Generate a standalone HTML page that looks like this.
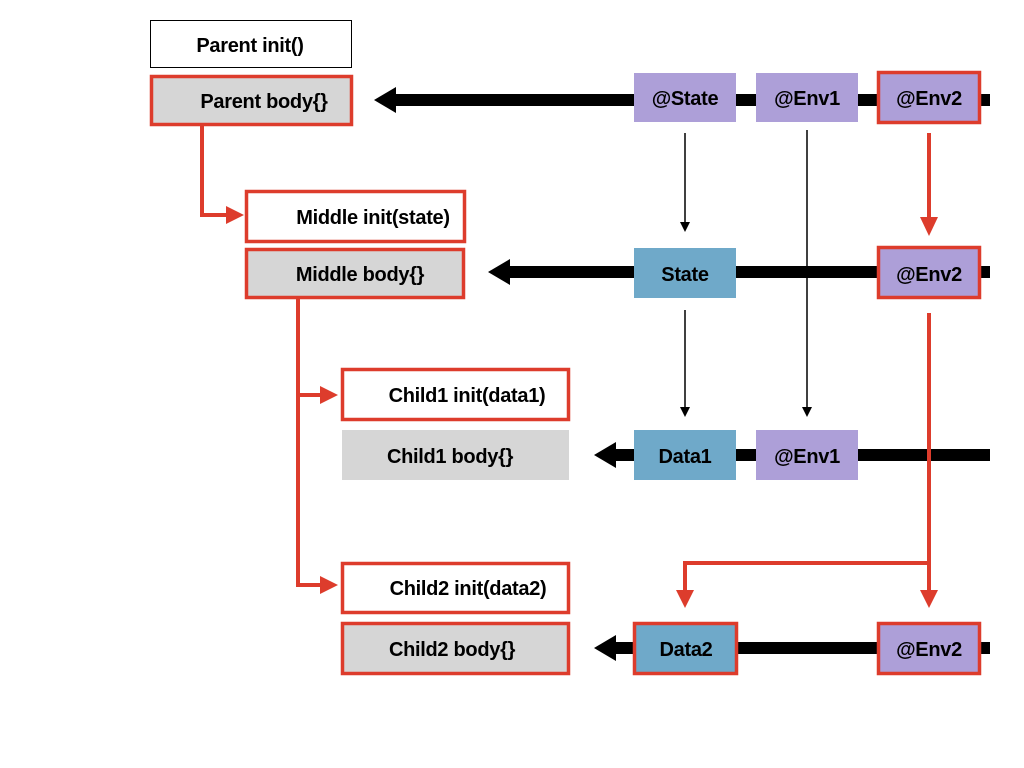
<!DOCTYPE html>
<html><head><style>body{margin:0;background:#fff}svg{display:block}text{font-family:"Liberation Sans",Arial,sans-serif;font-weight:bold;font-size:20px;letter-spacing:-0.3px;fill:#000}</style></head><body>
<svg width="1024" height="768" viewBox="0 0 1024 768">
<g fill="#000">
<rect x="392" y="94" width="598" height="12"/><path d="M374,100 L396,87 L396,113z"/>
<rect x="506" y="266" width="484" height="12"/><path d="M488,272 L510,259 L510,285z"/>
<rect x="612" y="449" width="378" height="12"/><path d="M594,455 L616,442 L616,468z"/>
<rect x="612" y="642" width="378" height="12"/><path d="M594,648 L616,635 L616,661z"/>
</g>
<g stroke="#000" stroke-width="1.5">
<line x1="685" y1="133" x2="685" y2="222"/><line x1="685" y1="310" x2="685" y2="407"/><line x1="807" y1="130" x2="807" y2="407"/>
</g>
<g fill="#000"><path d="M680,222 L690,222 L685,232z"/><path d="M680,407 L690,407 L685,417z"/><path d="M802,407 L812,407 L807,417z"/></g>
<g stroke="#dd3c2c" stroke-width="4" fill="none">
<polyline points="202,125 202,215 226,215"/>
<polyline points="298,298 298,585 320,585"/>
<line x1="298" y1="395" x2="320" y2="395"/>
<line x1="929" y1="133" x2="929" y2="218"/>
<polyline points="929,313 929,590"/>
<polyline points="929,563 685,563 685,590"/>
</g>
<g fill="#dd3c2c">
<path d="M244,215 L226,206 L226,224z"/>
<path d="M338,395 L320,386 L320,404z"/>
<path d="M338,585 L320,576 L320,594z"/>
<path d="M929,236 L920,217 L938,217z"/>
<path d="M929,608 L920,590 L938,590z"/>
<path d="M685,608 L676,590 L694,590z"/>
</g>
<rect x="150.5" y="20.5" width="201" height="47" fill="#fff" stroke="#000" stroke-width="1"/>
<text x="250" y="52" text-anchor="middle">Parent init()</text>
<rect x="151.5" y="76.5" width="200" height="48" fill="#d6d6d6" stroke="#dd3c2c" stroke-width="3.5"/>
<text x="264" y="108" text-anchor="middle">Parent body{}</text>
<rect x="246.5" y="191.5" width="218" height="50" fill="#fff" stroke="#dd3c2c" stroke-width="3.5"/>
<text x="373" y="224" text-anchor="middle">Middle init(state)</text>
<rect x="246.5" y="249.5" width="217" height="48" fill="#d6d6d6" stroke="#dd3c2c" stroke-width="3.5"/>
<text x="360" y="281" text-anchor="middle">Middle body{}</text>
<rect x="342.5" y="369.5" width="226" height="50" fill="#fff" stroke="#dd3c2c" stroke-width="3.5"/>
<text x="467" y="402" text-anchor="middle">Child1 init(data1)</text>
<rect x="342" y="430" width="227" height="50" fill="#d6d6d6"/>
<text x="450" y="463" text-anchor="middle">Child1 body{}</text>
<rect x="342.5" y="563.5" width="226" height="49" fill="#fff" stroke="#dd3c2c" stroke-width="3.5"/>
<text x="468" y="595" text-anchor="middle">Child2 init(data2)</text>
<rect x="342.5" y="623.5" width="226" height="50" fill="#d6d6d6" stroke="#dd3c2c" stroke-width="3.5"/>
<text x="452" y="656" text-anchor="middle">Child2 body{}</text>
<rect x="634" y="73" width="102" height="49" fill="#ad9fd8"/><text x="685" y="105" text-anchor="middle">@State</text>
<rect x="756" y="73" width="102" height="49" fill="#ad9fd8"/><text x="807" y="105" text-anchor="middle">@Env1</text>
<rect x="878.5" y="72.5" width="101" height="50" fill="#ad9fd8" stroke="#dd3c2c" stroke-width="3.5"/><text x="929" y="105" text-anchor="middle">@Env2</text>
<rect x="634" y="248" width="102" height="50" fill="#6fa9c9"/><text x="685" y="281" text-anchor="middle">State</text>
<rect x="878.5" y="247.5" width="101" height="50" fill="#ad9fd8" stroke="#dd3c2c" stroke-width="3.5"/><text x="929" y="281" text-anchor="middle">@Env2</text>
<rect x="634" y="430" width="102" height="50" fill="#6fa9c9"/><text x="685" y="463" text-anchor="middle">Data1</text>
<rect x="756" y="430" width="102" height="50" fill="#ad9fd8"/><text x="807" y="463" text-anchor="middle">@Env1</text>
<rect x="634.5" y="623.5" width="102" height="50" fill="#6fa9c9" stroke="#dd3c2c" stroke-width="3.5"/><text x="686" y="656" text-anchor="middle">Data2</text>
<rect x="878.5" y="623.5" width="101" height="50" fill="#ad9fd8" stroke="#dd3c2c" stroke-width="3.5"/><text x="929" y="656" text-anchor="middle">@Env2</text>
</svg>
</body></html>
